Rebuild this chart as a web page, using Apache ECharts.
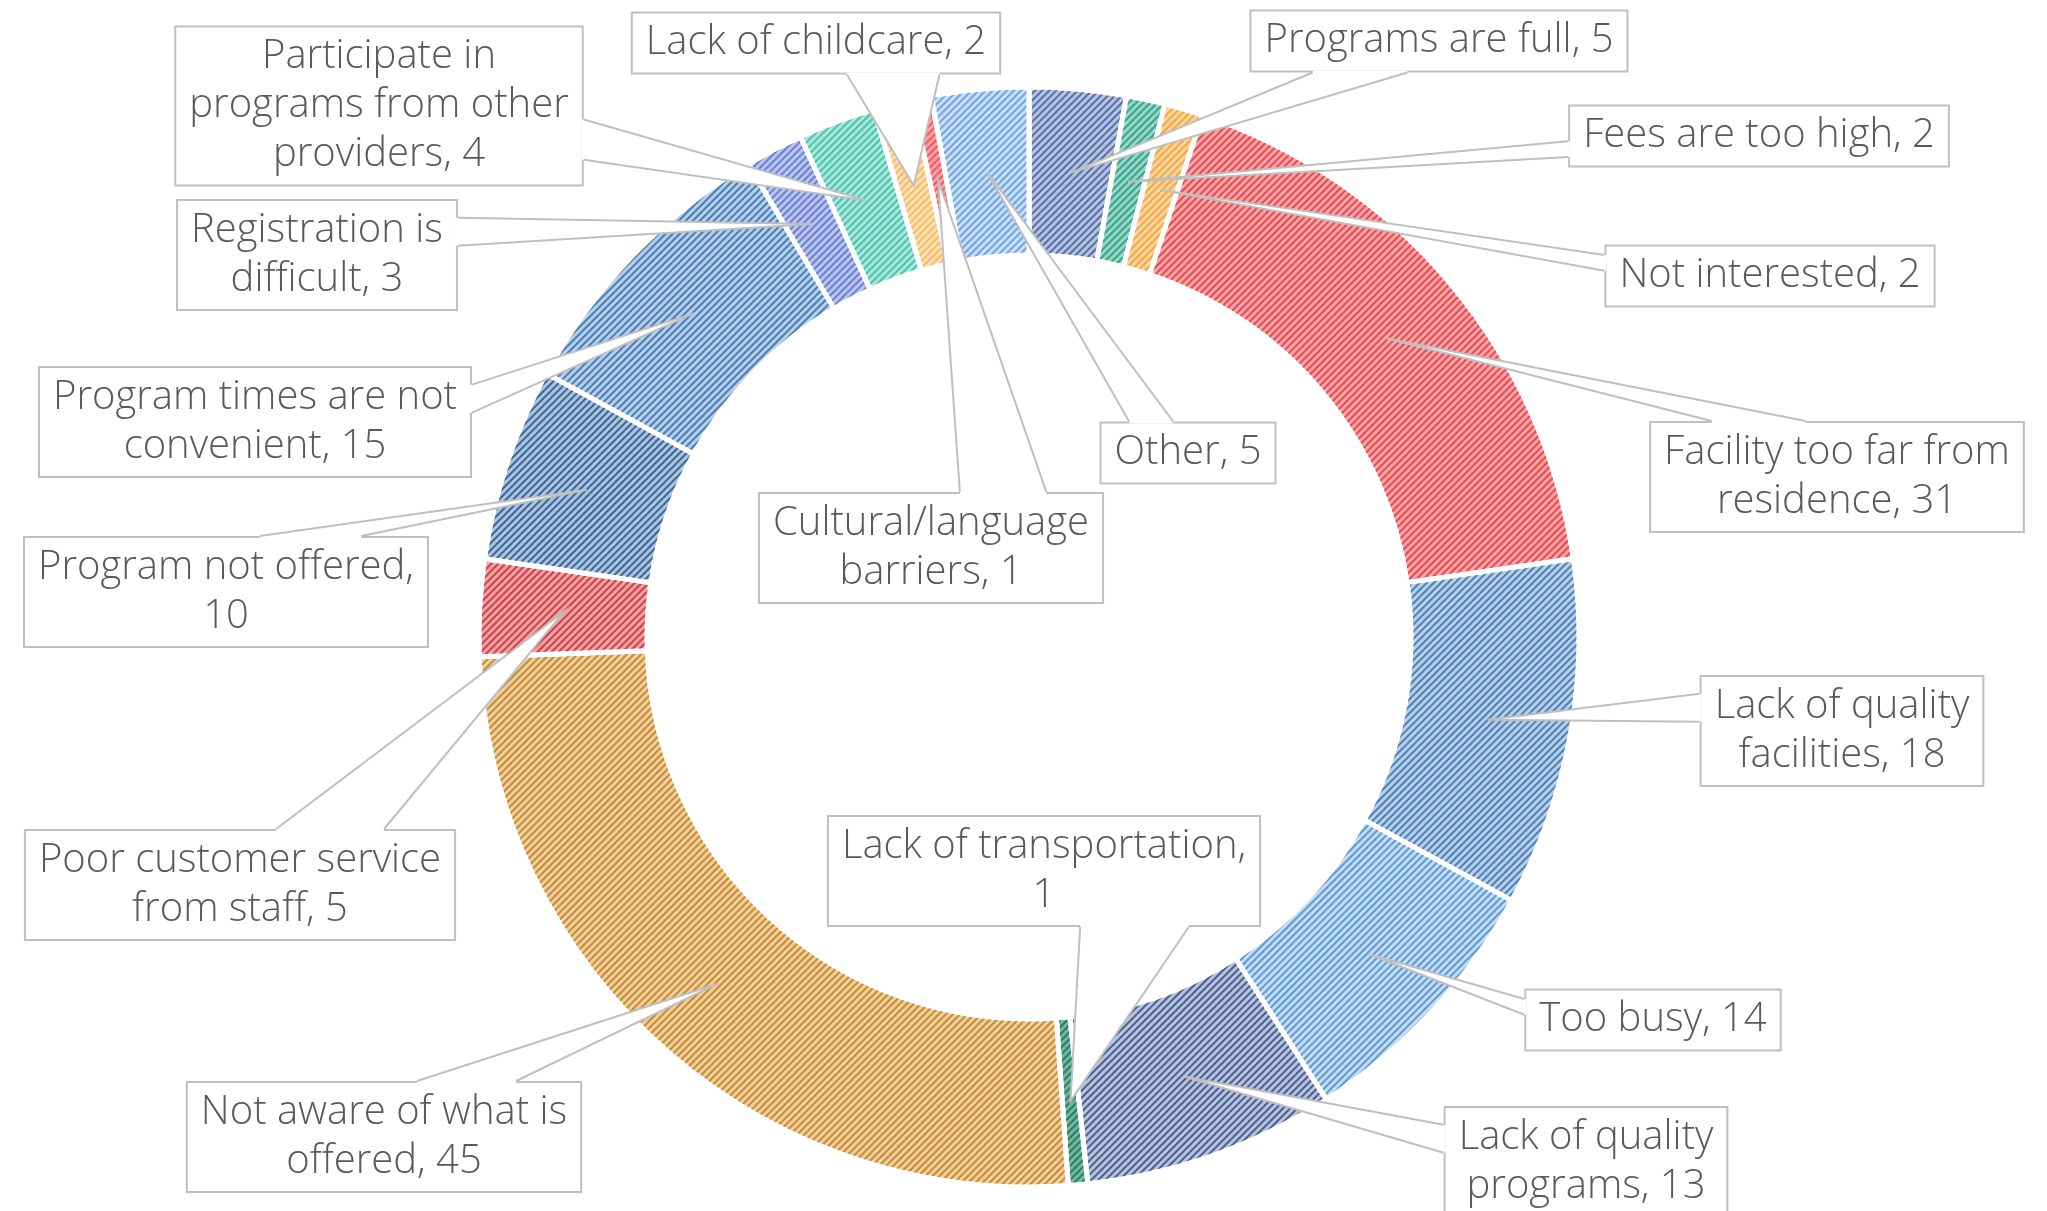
<!DOCTYPE html>
<html style="height: 100%">
<head>
  <meta charset="utf-8">
  <script src="https://cdn.jsdelivr.net/npm/echarts@6/dist/echarts.min.js"></script>
</head>
<body style="height: 100%; margin: 0; background: #fff">
<div id="main" style="width: 2047px; height: 1211px"></div>
<script>
  // reasons people gave, clockwise from 12 o'clock
  var reasons = [
    'Programs are full', 'Fees are too high', 'Not interested',
    'Facility too far from residence', 'Lack of quality facilities', 'Too busy',
    'Lack of quality programs', 'Lack of transportation', 'Not aware of what is offered',
    'Poor customer service from staff', 'Program not offered', 'Program times are not convenient',
    'Registration is difficult', 'Participate in programs from other providers',
    'Lack of childcare', 'Cultural/language barriers', 'Other'
  ];
  var counts = [5, 2, 2, 31, 18, 14, 13, 1, 45, 5, 10, 15, 3, 4, 2, 1, 5];

  // label text as the callouts wrap it
  var labelText = [
    'Programs are full, {c}', 'Fees are too high, {c}', 'Not interested, {c}',
    'Facility too far from\nresidence, {c}', 'Lack of quality\nfacilities, {c}', 'Too busy, {c}',
    'Lack of quality\nprograms, {c}', 'Lack of transportation,\n{c}', 'Not aware of what is\noffered, {c}',
    'Poor customer service\nfrom staff, {c}', 'Program not offered,\n{c}', 'Program times are not\nconvenient, {c}',
    'Registration is\ndifficult, {c}', 'Participate in\nprograms from other\nproviders, {c}',
    'Lack of childcare, {c}', 'Cultural/language\nbarriers, {c}', 'Other, {c}'
  ];

  // fill colour and stripe colour of each slice
  var fills = ['#b3c3e3', '#8fd9c5', '#fbd49a', '#f8a5a8', '#b7d0ea', '#c2dcf3',
    '#b5c3e0', '#6fb8a0', '#f1cf97', '#f3a0a3', '#a9c4e0', '#b5cfea',
    '#b8c5f0', '#a5e8dc', '#fde0b0', '#fba0a3', '#c8def7'];
  var stripes = ['#5a6fa0', '#3f9f88', '#eea848', '#e84850', '#4f7fb5', '#5f99d0',
    '#4c5f8c', '#2f7a66', '#c38a3c', '#c8434a', '#3e6592', '#4a7db3',
    '#6b7fd0', '#4fc0aa', '#f5bb66', '#f25a62', '#6fa4e0'];

  // callout box centres (layout only)
  var labelPos = [
    [1439, 41], [1759, 136], [1770, 276], [1837, 477], [1842, 731], [1653, 1020],
    [1586, 1162], [1044, 871], [384, 1137], [240, 885], [226, 592], [255, 422],
    [317, 255], [379, 106], [816, 43], [931, 548], [1188, 453]
  ];

  var boxes = [];

  var chart = echarts.init(document.getElementById('main'));

  var pieData = reasons.map(function (name, i) {
    return {
      name: name,
      value: counts[i],
      itemStyle: {
        color: fills[i],
        decal: {
          symbol: 'rect',
          symbolSize: 1,
          color: stripes[i],
          dashArrayX: [1, 0],
          dashArrayY: [2, 3],
          rotation: -Math.PI / 4
        }
      },
      label: { formatter: labelText[i] }
    };
  });

  var option = {
    animation: false,
    series: [{
      type: 'pie',
      center: [1029, 637],
      radius: [382, 550],
      startAngle: 90,
      clockwise: true,
      avoidLabelOverlap: false,
      itemStyle: { borderColor: '#fff', borderWidth: 5 },
      label: {
        show: true,
        position: 'outside',
        fontFamily: 'Open Sans',
        fontWeight: 300,
        fontSize: 40,
        lineHeight: 49,
        color: '#595959',
        backgroundColor: '#fff',
        borderColor: '#bfbfbf',
        borderWidth: 2,
        padding: [5, 13],
        align: 'center'
      },
      labelLine: { show: false },
      labelLayout: function (p) {
        var pos = labelPos[p.dataIndex];
        var w = p.labelRect.width, h = p.labelRect.height;
        boxes[p.dataIndex] = { l: pos[0] - w / 2, t: pos[1] - h / 2, w: w, h: h };
        return { x: pos[0], y: pos[1], align: 'center', verticalAlign: 'middle' };
      },
      data: pieData
    }]
  };

  chart.setOption(option);

  // wedge callouts, Office style: base on the box edge facing the tip
  function wedge(b, tip) {
    var hc = b.l + b.w / 2, vc = b.t + b.h / 2;
    var dx = tip[0] - hc, dy = tip[1] - vc;
    var dz = Math.abs(dy) - Math.abs(dx * b.h / b.w);
    var a, c, ai, ci;
    if (dz > 0) {
      var y = dy < 0 ? b.t : b.t + b.h;
      var f1 = dx > 0 ? 7 / 12 : 2 / 12, f2 = dx > 0 ? 10 / 12 : 5 / 12;
      var inset = dy < 0 ? 2 : -2;
      a = [b.l + b.w * f1, y]; c = [b.l + b.w * f2, y];
      ai = [a[0], y + inset]; ci = [c[0], y + inset];
    } else {
      var x = dx < 0 ? b.l : b.l + b.w;
      var g1 = dy > 0 ? 7 / 12 : 2 / 12, g2 = dy > 0 ? 10 / 12 : 5 / 12;
      var ins = dx < 0 ? 2 : -2;
      a = [x, b.t + b.h * g1]; c = [x, b.t + b.h * g2];
      ai = [x + ins, a[1]]; ci = [x + ins, c[1]];
    }
    return { line: [a, tip, c], poly: [ai, a, tip, c, ci] };
  }

  var sData = chart.getModel().getSeriesByIndex(0).getData();
  var graphics = [];
  for (var i = 0; i < counts.length; i++) {
    var L = sData.getItemLayout(i);
    var mid = (L.startAngle + L.endAngle) / 2;
    var rm = (L.r + L.r0) / 2;
    var tip = [L.cx + rm * Math.cos(mid), L.cy + rm * Math.sin(mid)];
    var wg = wedge(boxes[i], tip);
    graphics.push({
      type: 'polygon', z: 10, silent: true,
      shape: { points: wg.poly },
      style: { fill: '#fff', stroke: null }
    });
    graphics.push({
      type: 'polyline', z: 10, silent: true,
      shape: { points: wg.line },
      style: { fill: null, stroke: '#bfbfbf', lineWidth: 2 }
    });
  }
  chart.setOption({ graphic: graphics });
</script>
</body>
</html>
